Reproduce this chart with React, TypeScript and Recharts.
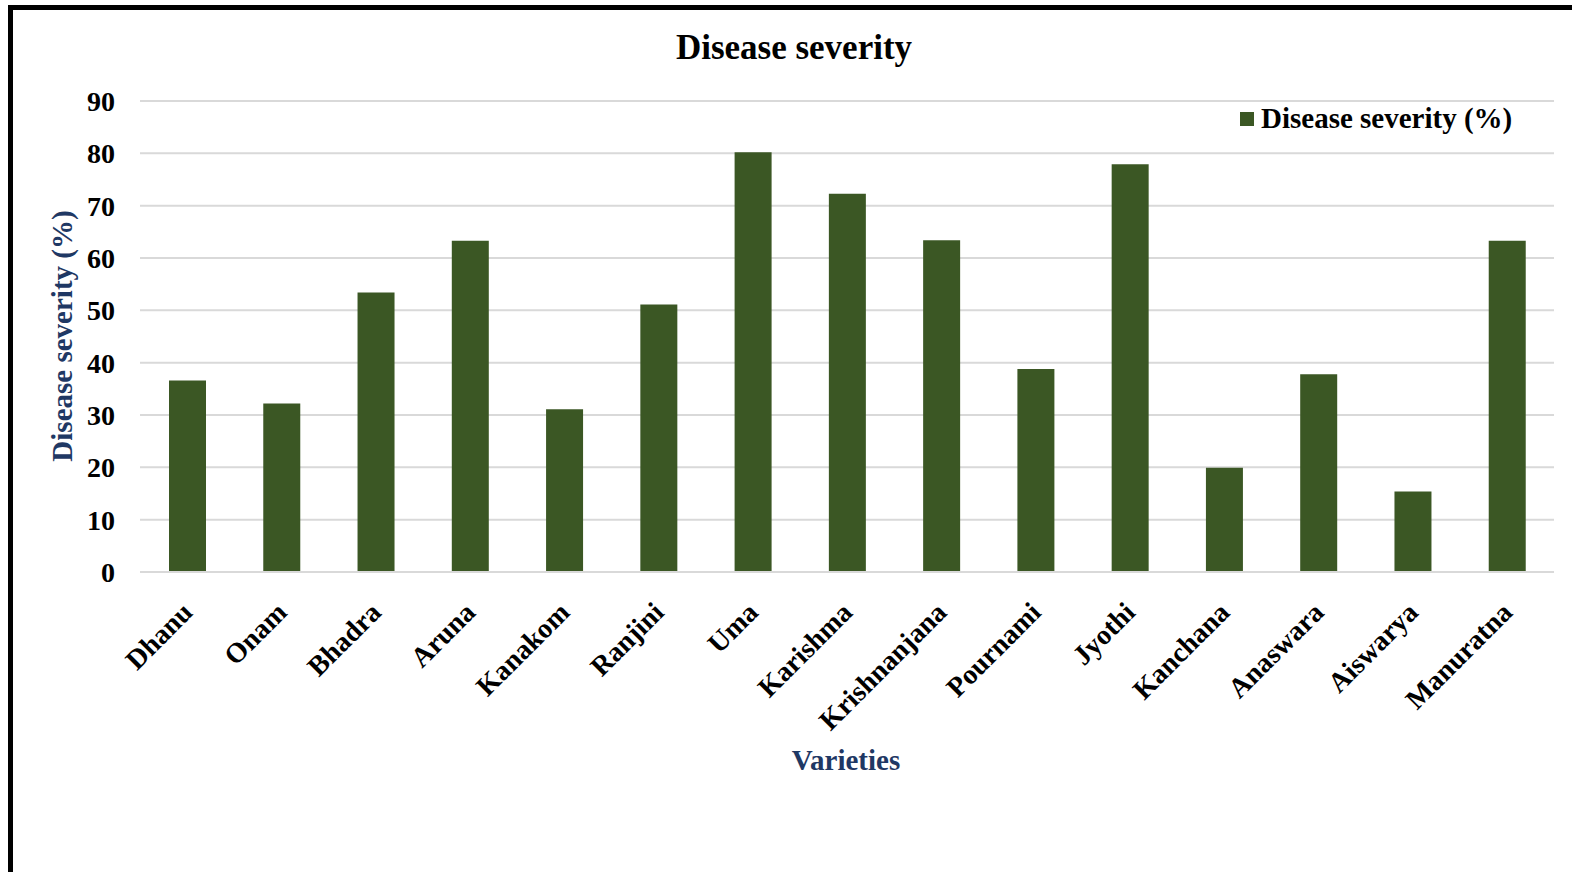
import { Bar, BarChart, CartesianGrid, Cell, Legend, XAxis, YAxis } from 'recharts';

const varieties = [
  'Dhanu', 'Onam', 'Bhadra', 'Aruna', 'Kanakom', 'Ranjini', 'Uma', 'Karishma',
  'Krishnanjana', 'Pournami', 'Jyothi', 'Kanchana', 'Anaswara', 'Aiswarya', 'Manuratna',
];
const severity = [36.6, 32.2, 53.4, 63.3, 31.1, 51.1, 80.2, 72.3, 63.4, 38.8, 77.9, 19.9, 37.8, 15.4, 63.3];
const yTicks = [0, 10, 20, 30, 40, 50, 60, 70, 80, 90];

const data = varieties.map((name, i) => ({ name, value: severity[i] }));

const FONT = '"Liberation Serif", "Times New Roman", serif';
const GREEN = '#3b5724';
const NAVY = '#1f3864';

function CategoryTick({ x, y, payload }: any) {
  const tx = x + 7;
  const ty = y + 40;
  return (
    <text
      x={tx}
      y={ty}
      textAnchor="end"
      transform={`rotate(-45 ${tx} ${ty})`}
      fontFamily={FONT}
      fontWeight="bold"
      fontSize={28}
      fill="#000"
    >
      {payload.value}
    </text>
  );
}

function LegendBox() {
  return (
    <div style={{ display: 'flex', alignItems: 'center', fontFamily: FONT, fontWeight: 'bold', fontSize: 29, color: '#000', whiteSpace: 'nowrap' }}>
      <span style={{ width: 14, height: 14, background: GREEN, marginRight: 7, display: 'inline-block' }} />
      Disease severity (%)
    </div>
  );
}

export default function App() {
  return (
    <div style={{ position: 'absolute', left: 0, top: 0, width: 1572, height: 872, background: '#fff', overflow: 'hidden' }}>
      {/* frame */}
      <div style={{ position: 'absolute', left: 8, top: 5, width: 1600, height: 900, borderTop: '5px solid #000', borderLeft: '5px solid #000' }} />
      <div style={{ position: 'absolute', left: 0, width: 1588, top: 28, textAlign: 'center', fontFamily: FONT, fontWeight: 'bold', fontSize: 35, color: '#000' }}>
        Disease severity
      </div>
      <BarChart width={1572} height={872} data={data} margin={{ top: 101, right: 18, left: 0, bottom: 0 }}>
        <CartesianGrid vertical={false} stroke="#d9d9d9" strokeWidth={2} />
        <XAxis
          dataKey="name"
          height={300}
          interval={0}
          tickLine={false}
          tickSize={0}
          axisLine={{ stroke: '#d9d9d9', strokeWidth: 2 }}
          tick={<CategoryTick />}
          label={{
            content: () => (
              <text x={846} y={760} textAnchor="middle" dominantBaseline="central" fontFamily={FONT} fontWeight="bold" fontSize={29} fill={NAVY}>
                Varieties
              </text>
            ),
          }}
        />
        <YAxis
          width={140}
          domain={[0, 90]}
          ticks={yTicks}
          interval={0}
          axisLine={false}
          tickLine={false}
          tickSize={0}
          tickMargin={25}
          tick={{ fontFamily: FONT, fontWeight: 'bold', fontSize: 28, fill: '#000' }}
          label={{
            content: () => (
              <text
                x={62}
                y={336}
                textAnchor="middle"
                dominantBaseline="central"
                transform="rotate(-90 62 336)"
                fontFamily={FONT}
                fontWeight="bold"
                fontSize={29}
                fill={NAVY}
              >
                Disease severity (%)
              </text>
            ),
          }}
        />
        <Legend
          layout="horizontal"
          align="center"
          verticalAlign="middle"
          wrapperStyle={{ left: 1240, top: 102, width: 'auto', height: 'auto' }}
          content={<LegendBox />}
        />
        <Bar dataKey="value" name="Disease severity (%)" barSize={37} isAnimationActive={false}>
          {data.map((d) => (
            <Cell key={d.name} fill={GREEN} />
          ))}
        </Bar>
      </BarChart>
    </div>
  );
}
